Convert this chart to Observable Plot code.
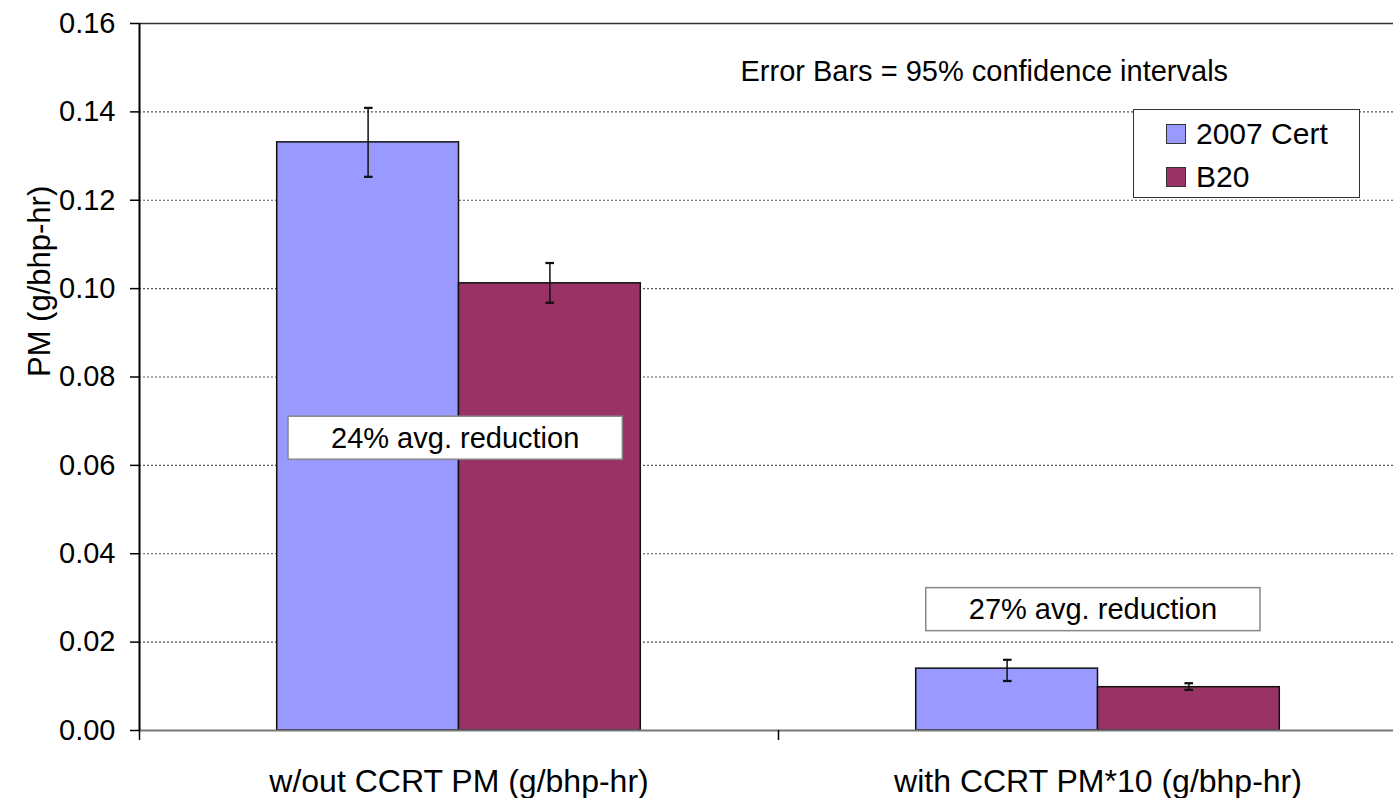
<!DOCTYPE html>
<html><head><meta charset="utf-8">
<script src="https://cdn.jsdelivr.net/npm/d3@7"></script>
<script src="https://cdn.jsdelivr.net/npm/@observablehq/plot@0.6"></script>
<style>
body{margin:0;background:#fff;font-family:"Liberation Sans",Arial,sans-serif;}
#chart{position:relative;width:1393px;height:798px;overflow:hidden;background:#fff;}
#legend{position:absolute;left:1133px;top:109px;width:227px;height:89px;border:1.5px solid #333;background:#fff;box-sizing:border-box;}
#legend .item{position:absolute;left:32px;display:flex;align-items:center;font-size:30px;line-height:30px;color:#000;}
#legend .sw{width:20px;height:20px;border:1px solid #333;box-sizing:border-box;margin-right:10px;}
</style></head><body><div id="chart"></div>
<script>
// ---- data ----
const categories = ["w/out CCRT PM (g/bhp-hr)", "with CCRT PM*10 (g/bhp-hr)"];
const seriesNames = ["2007 Cert", "B20"];
const seriesColors = ["#9999FF", "#993366"];
const cert2007 = [0.1331, 0.0140];
const b20 = [0.1012, 0.0098];
const cert2007Low = [0.1253, 0.0112];
const cert2007High = [0.1409, 0.0160];
const b20Low = [0.0968, 0.0092];
const b20High = [0.1058, 0.0107];
const yTicks = [0, 0.02, 0.04, 0.06, 0.08, 0.10, 0.12, 0.14, 0.16];
const annotations = ["24% avg. reduction", "27% avg. reduction"];
const annotationX = [0.494, 1.492];
const annotationY = [0.0661, 0.0273];
const note = "Error Bars = 95% confidence intervals";
const yLabel = "PM (g/bhp-hr)";

// ---- build table ----
const values = [cert2007, b20];
const lows = [cert2007Low, b20Low];
const highs = [cert2007High, b20High];
const barW = 0.2845; // bar width as fraction of category band
const rows = [];
categories.forEach((c, ci) => {
  seriesNames.forEach((s, si) => {
    const x1 = ci + 0.5 + (si - 1) * barW;
    rows.push({cat: c, series: s, value: values[si][ci], low: lows[si][ci], high: highs[si][ci],
      x1, x2: x1 + barW, xc: x1 + barW / 2, color: seriesColors[si]});
  });
});

const chart = Plot.plot({
  width: 1393, height: 798,
  marginLeft: 139, marginTop: 23, marginBottom: 68, marginRight: 0,
  style: {fontFamily: "'Liberation Sans', Arial, sans-serif", fontSize: "28px", color: "#000", background: "transparent", overflow: "hidden"},
  x: {type: "linear", domain: [0, 2], range: [139, 1417], axis: null},
  y: {domain: [0, 0.16], axis: null},
  marks: [
    Plot.ruleY(yTicks.slice(1, -1), {stroke: "#555", strokeDasharray: "2,2", strokeWidth: 1.2}),
    Plot.ruleY([0.16], {stroke: "#333", strokeWidth: 1.5}),
    Plot.rectY(rows, {x1: "x1", x2: "x2", y1: 0, y2: "value", fill: "color", stroke: "#111", strokeWidth: 1.5}),
    Plot.link(rows, {x1: "xc", x2: "xc", y1: "low", y2: "high", stroke: "#111", strokeWidth: 1.5, markerStart: "tick", markerEnd: "tick"}),
    Plot.ruleY([0], {stroke: "#777", strokeWidth: 2}),
    Plot.ruleX([0], {y1: 0, y2: 0.16, stroke: "#000", strokeWidth: 2}),
    Plot.axisY({ticks: yTicks, tickSize: 9, tickPadding: 15, tickFormat: d => d.toFixed(2), label: null, fontSize: 29, strokeWidth: 1.5}),
    Plot.axisX({ticks: [0, 1], tickSize: 10, tickFormat: () => "", label: null, strokeWidth: 1.5}),
    Plot.axisX({ticks: [0.5, 1.5], tickSize: 0, tickPadding: 39, tickFormat: d => categories[Math.floor(d)], label: null, fontSize: 32}),
    Plot.text(annotations, {x: (d, i) => annotationX[i], y: (d, i) => annotationY[i], text: d => d, fontSize: 29, fill: "#000"}),
    Plot.text([note], {x: 0.9405, y: 0.149, text: d => d, textAnchor: "start", fontSize: 29, fill: "#000"}),
    Plot.text([yLabel], {frameAnchor: "left", rotate: -90, dx: -99, text: d => d, fontSize: 31, fill: "#000"})
  ]
});

const host = document.getElementById("chart");
host.appendChild(chart);

// white boxes behind the annotation labels
const svg = host.querySelector("svg");
svg.querySelectorAll("text").forEach(t => {
  if (annotations.includes(t.textContent)) {
    const b = t.getBBox();
    const cx = b.x + b.width / 2, cy = b.y + b.height / 2;
    const w = b.width + 86, h = 43;
    const r = document.createElementNS("http://www.w3.org/2000/svg", "rect");
    r.setAttribute("x", cx - w / 2);
    r.setAttribute("y", cy - h / 2);
    r.setAttribute("width", w);
    r.setAttribute("height", h);
    r.setAttribute("fill", "#fff");
    r.setAttribute("stroke", "#888");
    r.setAttribute("stroke-width", "1.5");
    if (t.getAttribute("transform")) r.setAttribute("transform", t.getAttribute("transform"));
    t.parentNode.insertBefore(r, t);
  }
});

// legend inside plot area
const legend = document.createElement("div");
legend.id = "legend";
seriesNames.forEach((s, i) => {
  const it = document.createElement("div");
  it.className = "item";
  it.style.top = (i === 0 ? 9 : 52) + "px";
  const sw = document.createElement("div");
  sw.className = "sw";
  sw.style.background = seriesColors[i];
  const lb = document.createElement("span");
  lb.textContent = s;
  it.appendChild(sw); it.appendChild(lb);
  legend.appendChild(it);
});
host.appendChild(legend);
</script></body></html>
